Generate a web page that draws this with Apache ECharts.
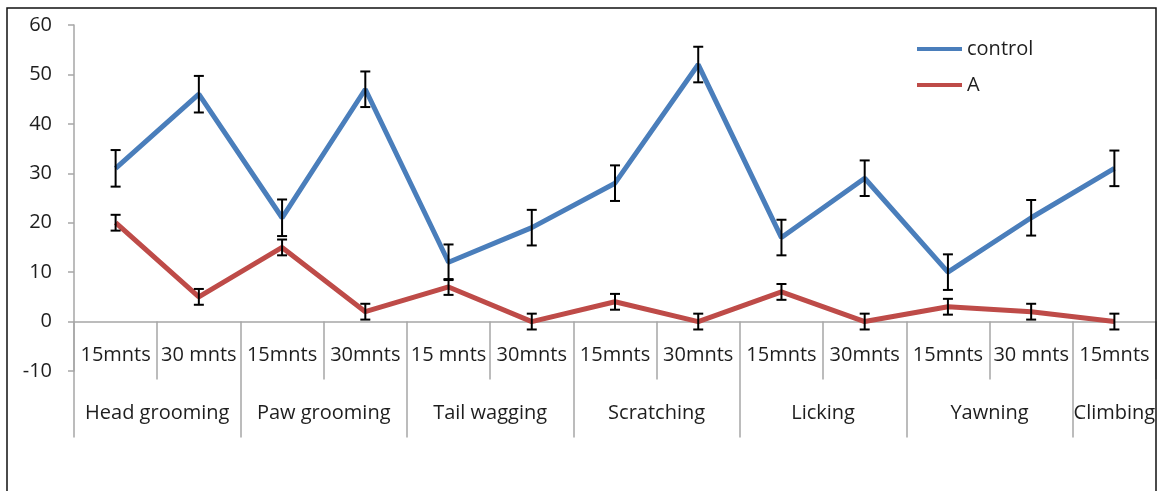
<!DOCTYPE html>
<html>
<head>
<meta charset="utf-8">
<script src="https://cdn.jsdelivr.net/npm/echarts@6/dist/echarts.min.js"></script>
<style>
  html, body { margin: 0; padding: 0; background: #fff; }
  #main { width: 1158px; height: 491px; }
</style>
</head>
<body>
<div id="main"></div>
<script>
// sub categories (first row under the axis)
var times = ['15mnts', '30 mnts', '15mnts', '30mnts', '15 mnts', '30mnts', '15mnts',
  '30mnts', '15mnts', '30mnts', '15mnts', '30 mnts', '15mnts'];
// behaviour groups (second row) and how many sub categories each one spans
var groups = ['Head grooming', 'Paw grooming', 'Tail wagging', 'Scratching', 'Licking', 'Yawning', 'Climbing'];
var groupSizes = [2, 2, 2, 2, 2, 2, 1];

var control = [31, 46, 21, 47, 12, 19, 28, 52, 17, 29, 10, 21, 31];
var controlErr = [3.7, 3.7, 3.7, 3.6, 3.6, 3.6, 3.6, 3.6, 3.6, 3.6, 3.6, 3.6, 3.6];
var groupA = [20, 5, 15, 2, 7, 0, 4, 0, 6, 0, 3, 2, 0];
var groupAErr = [1.6, 1.6, 1.6, 1.6, 1.6, 1.6, 1.6, 1.6, 1.6, 1.6, 1.6, 1.6, 1.6];

var yTicks = { min: -10, max: 60, step: 10 };

// group row: half-category slots (0 .. 2*n), label at group centre, tick at group start
var groupSlots = [];
for (var s = 0; s <= times.length * 2; s++) groupSlots.push('');
var groupTickSlots = [];
var start = 0;
groups.forEach(function (g, i) {
  groupTickSlots.push(start * 2);
  groupSlots[start * 2 + groupSizes[i]] = g;
  start += groupSizes[i];
});

var font = '"Open Sans", sans-serif';
var textColor = '#1e1e1e';
var axisGray = '#a6a6a6';

function errData(vals, errs) {
  return vals.map(function (v, i) { return [i, v - errs[i], v + errs[i]]; });
}

function renderErr(params, api) {
  var lo = api.coord([api.value(0), api.value(1)]);
  var hi = api.coord([api.value(0), api.value(2)]);
  var cap = 5;
  var st = { stroke: '#000', lineWidth: 2 };
  return {
    type: 'group',
    children: [
      { type: 'line', shape: { x1: lo[0], y1: lo[1], x2: hi[0], y2: hi[1] }, style: st },
      { type: 'line', shape: { x1: hi[0] - cap, y1: hi[1], x2: hi[0] + cap, y2: hi[1] }, style: st },
      { type: 'line', shape: { x1: lo[0] - cap, y1: lo[1], x2: lo[0] + cap, y2: lo[1] }, style: st }
    ]
  };
}

var chart = echarts.init(document.getElementById('main'), null, { renderer: 'canvas' });

var option = {
  backgroundColor: '#fff',
  animation: false,
  textStyle: { fontFamily: font },
  graphic: [{
    type: 'rect',
    shape: { x: 7, y: 8, width: 1149, height: 520 },
    style: { fill: 'none', stroke: '#111', lineWidth: 1.5 },
    z: 100
  }],
  grid: { left: 74, right: 2, top: 25, bottom: 120, containLabel: false, outerBoundsMode: 'none' },
  legend: {
    orient: 'vertical',
    left: 912,
    top: 34,
    icon: 'rect',
    itemWidth: 45,
    itemHeight: 4,
    itemGap: 16,
    data: ['control', 'A'],
    textStyle: { fontSize: 20, color: textColor, fontFamily: font }
  },
  xAxis: [{
    type: 'category',
    data: times,
    position: 'bottom',
    boundaryGap: true,
    axisLine: { onZero: true, onZeroAxisIndex: 0, lineStyle: { color: axisGray, width: 1.5 } },
    axisTick: { show: true, interval: 0, length: 58, lineStyle: { color: axisGray, width: 1.5 } },
    axisLabel: { interval: 0, margin: -26, fontSize: 20, color: textColor, fontFamily: font },
    splitLine: { show: false }
  }, {
    type: 'category',
    data: groupSlots,
    position: 'bottom',
    boundaryGap: false,
    axisLine: { show: false, onZero: true, onZeroAxisIndex: 0 },
    axisTick: {
      show: true,
      length: 116,
      interval: function (idx) { return groupTickSlots.indexOf(idx) >= 0; },
      lineStyle: { color: axisGray, width: 1.5 }
    },
    axisLabel: {
      interval: function (idx, val) { return val !== ''; },
      margin: 32,
      fontSize: 20,
      color: textColor,
      fontFamily: font
    },
    splitLine: { show: false }
  }],
  yAxis: {
    type: 'value',
    min: yTicks.min,
    max: yTicks.max,
    interval: yTicks.step,
    axisLine: { show: true, onZero: false, lineStyle: { color: axisGray, width: 1.5 } },
    axisTick: { show: true, length: 6, lineStyle: { color: axisGray, width: 1.5 } },
    axisLabel: { margin: 22, fontSize: 20, color: textColor, fontFamily: font },
    splitLine: { show: false }
  },
  series: [{
    name: 'control',
    type: 'line',
    data: control,
    symbol: 'none',
    lineStyle: { color: '#4a7ebb', width: 5 },
    itemStyle: { color: '#4a7ebb' },
    z: 2
  }, {
    name: 'A',
    type: 'line',
    data: groupA,
    symbol: 'none',
    lineStyle: { color: '#be4b48', width: 5 },
    itemStyle: { color: '#be4b48' },
    z: 2
  }, {
    type: 'custom',
    renderItem: renderErr,
    data: errData(control, controlErr),
    encode: { x: 0, y: [1, 2] },
    z: 5
  }, {
    type: 'custom',
    renderItem: renderErr,
    data: errData(groupA, groupAErr),
    encode: { x: 0, y: [1, 2] },
    z: 5
  }]
};

chart.setOption(option);
</script>
</body>
</html>
